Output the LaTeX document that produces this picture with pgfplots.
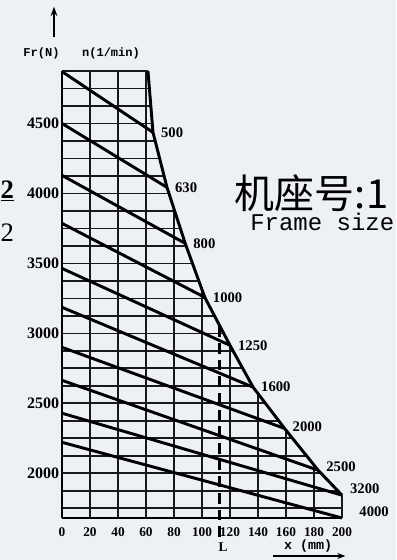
\documentclass[border=0pt]{standalone}
\usepackage{fontspec}
\setmainfont{Liberation Serif}
\newfontfamily\cjk{Noto Sans CJK SC}
\newfontfamily\mono{Liberation Mono}
\usepackage{pgfplots}
\pgfplotsset{compat=1.18}
\usetikzlibrary{arrows.meta}
\definecolor{bg}{RGB}{237,240,245}
\tikzset{lab/.style={font=\fontsize{11}{11}\selectfont\bfseries, anchor=west, inner sep=1pt, xshift=4pt}}

\begin{document}
\begin{tikzpicture}
\fill[bg] (0,0) rectangle (297pt,420pt);
\begin{scope}
\clip (0,0) rectangle (297pt,420pt);
\begin{axis}[
  at={(46.5pt,31.5pt)}, anchor=south west,
  scale only axis, width=210pt, height=335.25pt,
  xmin=0, xmax=200, ymin=1680, ymax=4875,
  axis x line*=bottom, axis y line*=left,
  axis line style={line width=1.3pt, -},
  xtick={0,20,...,200}, ytick={2000,2500,...,4500},
  minor ytick={1750,1875,...,4875},
  grid=both,
  major grid style={line width=1.2pt, black!90},
  minor grid style={line width=1.2pt, black!90},
  major tick length=0pt, minor tick length=0pt,
  /pgf/number format/assume math mode=true,
  /pgf/number format/1000 sep={},
  xticklabel style={font=\fontsize{10}{10}\selectfont\bfseries, yshift=-4pt},
  yticklabel style={font=\fontsize{12}{12}\selectfont\bfseries, inner sep=1pt, xshift=-1pt},
  clip=false,
]
% area right of the limit curve hides the grid
\addplot[fill=bg, draw=none] coordinates {(61.4,4900) (61.4,4875) (65,4436) (75,4043) (88,3643) (102,3257) (120,2914) (136.5,2615) (159,2320) (183,2021) (200,1843) (205,1843) (205,4900)};
% limit curve
\addplot[line width=2.2pt] coordinates {(61.4,4875) (65,4436) (75,4043) (88,3643) (102,3257) (120,2914) (136.5,2615) (159,2320) (183,2021) (200,1843)};
% speed lines n (1/min)
\addplot[line width=2.2pt] coordinates {(0,4871) (65,4436)} node[pos=1, lab] {500};
\addplot[line width=2.2pt] coordinates {(0,4500) (75,4043)} node[pos=1, lab] {630};
\addplot[line width=2.2pt] coordinates {(0,4129) (88,3643)} node[pos=1, lab] {800};
\addplot[line width=2.2pt] coordinates {(0,3786) (102,3257)} node[pos=1, lab] {1000};
\addplot[line width=2.2pt] coordinates {(0,3464) (120,2914)} node[pos=1, lab] {1250};
\addplot[line width=2.2pt] coordinates {(0,3186) (136.5,2615)} node[pos=1, lab] {1600};
\addplot[line width=2.2pt] coordinates {(0,2900) (159,2320)} node[pos=1, lab, yshift=1pt] {2000};
\addplot[line width=2.2pt] coordinates {(0,2664) (183,2021)} node[pos=1, lab, yshift=3pt] {2500};
\addplot[line width=2.2pt] coordinates {(0,2429) (200,1843)} node[pos=1, lab, yshift=4.5pt] {3200};
\addplot[line width=2.2pt] coordinates {(0,2221) (200,1680)} node[pos=1, lab, xshift=7pt, yshift=4.5pt] {4000};
% L
\addplot[line width=2.2pt, dash pattern=on 8pt off 4.5pt] coordinates {(112.5,3050) (112.5,1543)};
\end{axis}
\draw[line width=1.4pt, -{Stealth[length=7pt,width=5pt]}] (40.5pt,392pt) -- (40.5pt,415pt);
\node[font=\mono\bfseries\fontsize{9}{9}\selectfont] at (31.1pt,380.25pt) {Fr(N)};
\node[font=\mono\bfseries\fontsize{9}{9}\selectfont] at (83.25pt,380.25pt) {n(1/min)};
\node[font=\bfseries\fontsize{10}{10}\selectfont] at (167.25pt,9.75pt) {L};
\node[font=\mono\bfseries\fontsize{10}{10}\selectfont] at (231pt,10.5pt) {x (mm)};
\draw[line width=1.3pt, -{Stealth[length=6pt,width=4.5pt]}] (204.75pt,3pt) -- (259pt,3pt);
\node[font=\cjk\fontsize{30}{30}\selectfont, anchor=west, inner sep=0pt] at (176pt,275.25pt) {机座号:1};
\node[font=\mono\fontsize{18}{18}\selectfont, anchor=west, inner sep=0pt] at (187.5pt,253.5pt) {Frame size};
\node[font=\bfseries\fontsize{20}{20}\selectfont, anchor=west, inner sep=0pt] at (0.3pt,277pt) {\underline{2}};
\node[font=\fontsize{20}{20}\selectfont, anchor=west, inner sep=0pt] at (0.3pt,245.25pt) {2};
\end{scope}
\pgfresetboundingbox
\useasboundingbox (0,0) rectangle (297pt,420pt);
\end{tikzpicture}
\end{document}
